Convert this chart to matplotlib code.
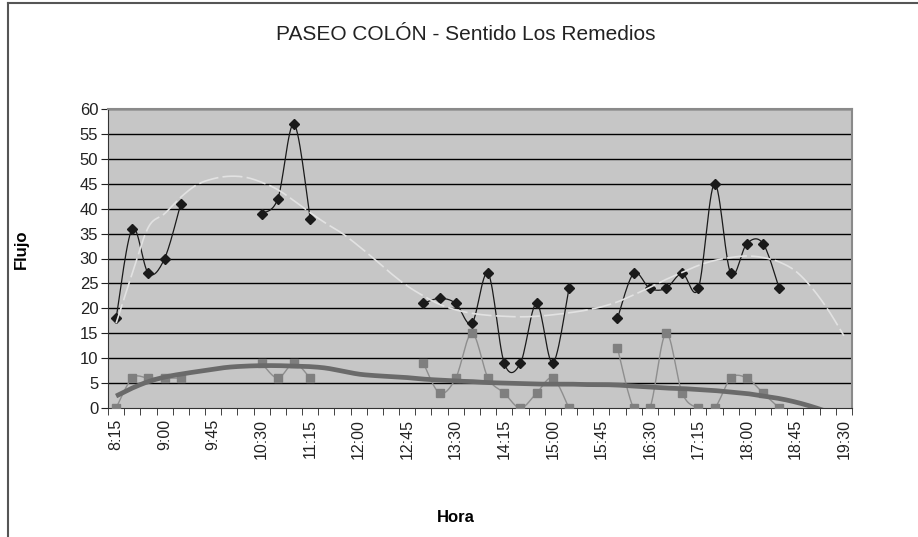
import numpy as np
import matplotlib
matplotlib.use("Agg")
import matplotlib.pyplot as plt

plt.rcParams['font.family'] = ['Liberation Sans', 'DejaVu Sans']

nan = np.nan

# categorias (cada 15 minutos)
hora = ["8:15", "8:30", "8:45", "9:00", "9:15", "9:30", "9:45", "10:00", "10:15",
        "10:30", "10:45", "11:00", "11:15", "11:30", "11:45", "12:00", "12:15",
        "12:30", "12:45", "13:00", "13:15", "13:30", "13:45", "14:00", "14:15",
        "14:30", "14:45", "15:00", "15:15", "15:30", "15:45", "16:00", "16:15",
        "16:30", "16:45", "17:00", "17:15", "17:30", "17:45", "18:00", "18:15",
        "18:30", "18:45", "19:00", "19:15", "19:30"]

# flujo serie 1 (rombos negros)
flujo1 = [18, 36, 27, 30, 41, nan, nan, nan, nan, 39, 42, 57, 38,
          nan, nan, nan, nan, nan, nan, 21, 22, 21, 17, 27, 9, 9, 21, 9, 24,
          nan, nan, 18, 27, 24, 24, 27, 24, 45, 27, 33, 33, 24,
          nan, nan, nan, nan]

# flujo serie 2 (cuadrados grises)
flujo2 = [0, 6, 6, 6, 6, nan, nan, nan, nan, 9, 6, 9, 6,
          nan, nan, nan, nan, nan, nan, 9, 3, 6, 15, 6, 3, 0, 3, 6, 0,
          nan, nan, 12, 0, 0, 15, 3, 0, 0, 6, 6, 3, 0,
          nan, nan, nan, nan]

# lineas de tendencia
tend1 = [17, 27, 36.3, 39, 42.3, 44.8, 46, 46.5, 46.3, 45.3, 43.8, 41.6, 39.2,
         37, 35, 32.5, 29.8, 27, 24.5, 22.5, 20.8, 19.7, 19, 18.6, 18.4, 18.3,
         18.4, 18.7, 19.1, 19.6, 20.3, 21.3, 22.7, 24.2, 25.8, 27.2, 28.6, 29.6,
         30.2, 30.5, 30.2, 29.3, 27.5, 24.2, 19.8, 14.5]
tend2 = [2.4, 4.0, 5.3, 6.2, 6.8, 7.3, 7.8, 8.2, 8.4, 8.5, 8.5, 8.4, 8.3, 8.0,
         7.4, 6.8, 6.5, 6.3, 6.1, 5.8, 5.6, 5.4, 5.3, 5.1, 5.0, 4.9, 4.8, 4.8,
         4.8, 4.7, 4.7, 4.6, 4.4, 4.2, 4.0, 3.9, 3.7, 3.5, 3.2, 2.9, 2.4, 1.9,
         1.2, 0.3, -0.8, -2.2]


def suave(x, y, n=16):
    # curva suavizada tipo excel (bezier), cortada en los huecos
    x = np.asarray(x, float)
    y = np.asarray(y, float)
    idx = np.where(~np.isnan(y))[0]
    tramos = np.split(idx, np.where(np.diff(idx) != 1)[0] + 1)
    ox, oy = [], []
    t = np.linspace(0, 1, n)
    for r in tramos:
        px, py = x[r], y[r]
        m = len(r)
        if m == 1:
            ox += [px[0]]; oy += [py[0]]
        for k in range(m - 1):
            a = k - 1 if k > 0 else k
            d = k + 2 if k + 2 < m else k + 1
            c1x = px[k] + (px[k + 1] - px[a]) / 6
            c1y = py[k] + (py[k + 1] - py[a]) / 6
            c2x = px[k + 1] - (px[d] - px[k]) / 6
            c2y = py[k + 1] - (py[d] - py[k]) / 6
            bx = (1-t)**3*px[k] + 3*(1-t)**2*t*c1x + 3*(1-t)*t**2*c2x + t**3*px[k+1]
            by = (1-t)**3*py[k] + 3*(1-t)**2*t*c1y + 3*(1-t)*t**2*c2y + t**3*py[k+1]
            ox += list(bx); oy += list(by)
        ox.append(nan); oy.append(nan)
    return np.array(ox), np.array(oy)


x = np.arange(len(hora))

fig = plt.figure(figsize=(9.18, 5.37), dpi=100)
ax = fig.add_axes([108/918, 1-408/537, (852-108)/918, (408-109)/537])
ax.set_facecolor('#c6c6c6')

for v in range(5, 61, 5):
    ax.axhline(v, color='black', lw=1.0, zorder=1)

sx, sy = suave(x, flujo1)
ax.plot(sx, sy, color='#1a1a1a', lw=0.9, zorder=3)
ax.plot(x, flujo1, ls='none', marker='D', ms=5.5, color='#1a1a1a', zorder=4)

sx, sy = suave(x, flujo2)
ax.plot(sx, sy, color='#8e8e8e', lw=1.0, zorder=3)
ax.plot(x, flujo2, ls='none', marker='s', ms=6, color='#7f7f7f', zorder=4)

sx, sy = suave(x, tend2)
ax.plot(sx, sy, color='#6a6a6a', lw=3.4, zorder=5, solid_capstyle='butt')
sx, sy = suave(x, tend1)
ax.plot(sx, sy, color='#e2e2e2', lw=1.2, dashes=(12, 2.5), zorder=5)

ax.set_xlim(-0.5, len(hora) - 0.5)
ax.set_ylim(0, 60)
ax.set_yticks(range(0, 61, 5))
ax.tick_params(axis='y', labelsize=12, length=5, direction='out', pad=2, colors='#222222')

ax.set_xticks(np.arange(-0.5, len(hora), 1), minor=True)
ax.set_xticks(x[::3])
ax.set_xticklabels(hora[::3], rotation=90, fontsize=11.5, color='#222222')
ax.tick_params(axis='x', which='major', length=0, pad=8)
ax.tick_params(axis='x', which='minor', length=5, direction='out', color='#222222')

for s in ['left', 'bottom']:
    ax.spines[s].set_color('#333333')
for s in ['top', 'right']:
    ax.spines[s].set_color('#8a8a8a')
    ax.spines[s].set_linewidth(1.5)

ax.set_ylabel('Flujo', fontsize=12, fontweight='bold')
ax.yaxis.set_label_coords(-0.107, 0.53)
ax.set_xlabel('Hora', fontsize=12, fontweight='bold')
ax.xaxis.set_label_coords(0.467, -0.34)

fig.text(466/918, 1-34/537, 'PASEO COLÓN - Sentido Los Remedios', ha='center', va='center',
         fontsize=15, color='#222222')

# marco del grafico
fig.add_artist(plt.Line2D([7.5/918, 7.5/918], [0, 1-3/537], color='#555555', lw=1.5))
fig.add_artist(plt.Line2D([7.5/918, 1], [1-3/537, 1-3/537], color='#555555', lw=1.5))

fig.savefig('out.png', dpi=100)
